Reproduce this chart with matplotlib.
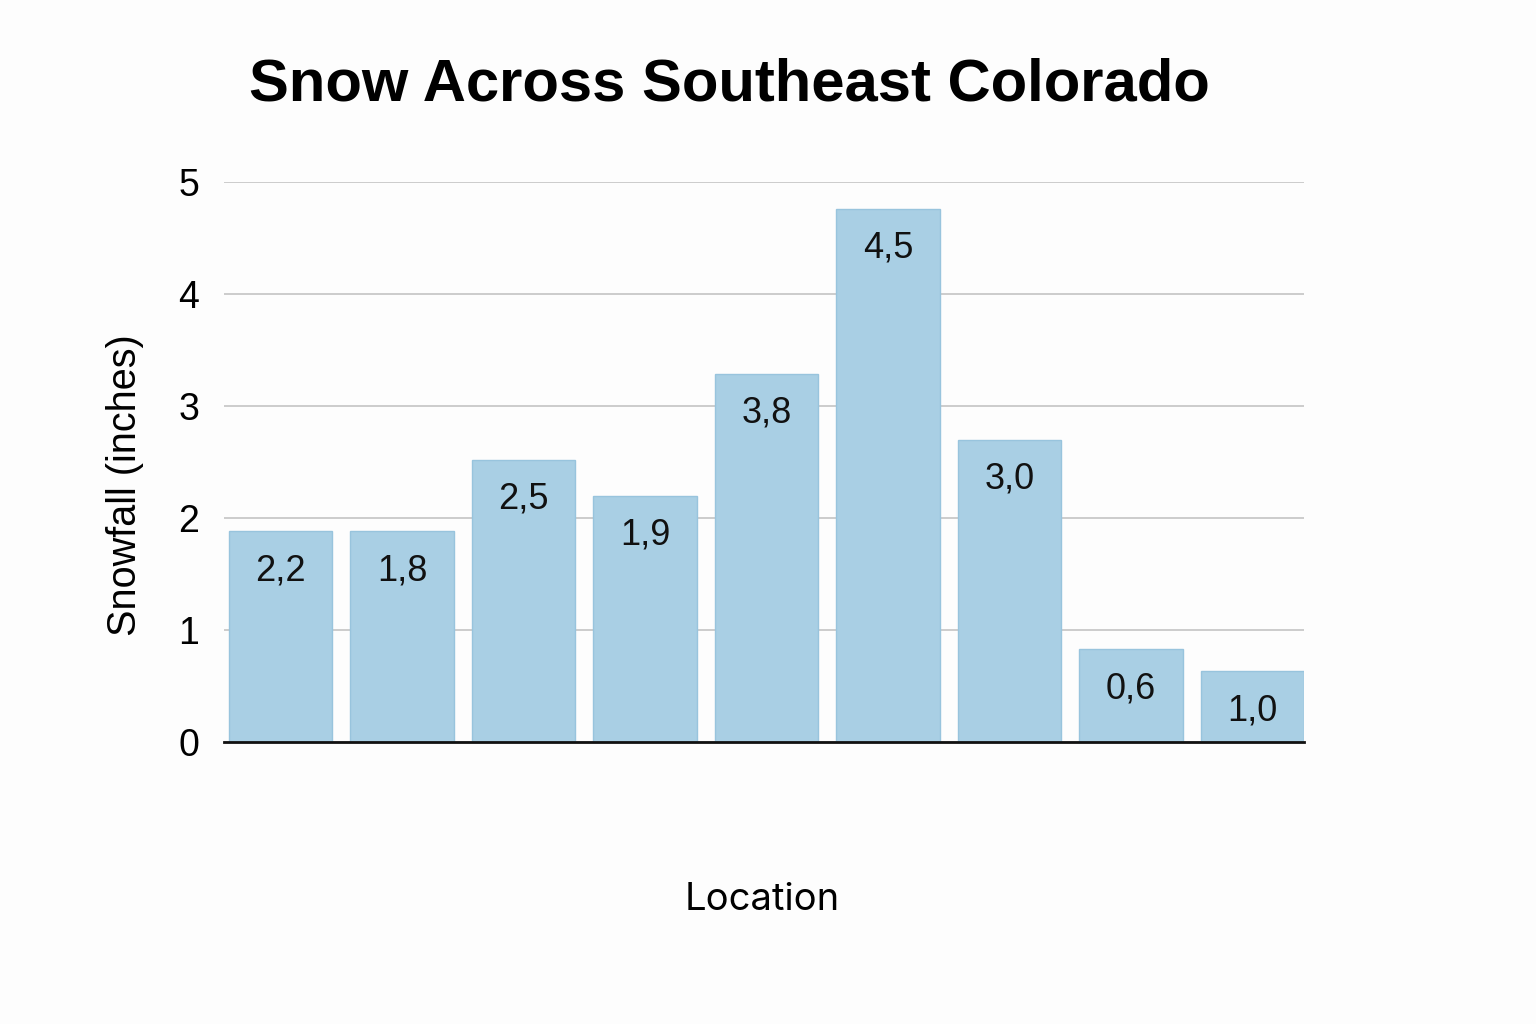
import numpy as np
import matplotlib
matplotlib.use("Agg")
import matplotlib.pyplot as plt

# bar heights as drawn, and the labels printed on them
heights = [1.88, 1.88, 2.52, 2.2, 3.29, 4.76, 2.7, 0.83, 0.63]
labels = ["2,2", "1,8", "2,5", "1,9", "3,8", "4,5", "3,0", "0,6", "1,0"]
yticks = [0, 1, 2, 3, 4, 5]

plt.rcParams['font.family'] = ['Liberation Sans', 'DejaVu Sans']

fig = plt.figure(figsize=(15.36, 10.24), dpi=100, facecolor='#fdfdfd')
ax = fig.add_axes([224/1536, 1-742/1024, 1080/1536, 560/1024])
ax.set_facecolor('#fdfdfd')

x = np.arange(len(heights))
bars = ax.bar(x, heights, width=0.85, color='#a9cfe4', edgecolor='#98c4dd', linewidth=1, zorder=2)

for xi, h, lab in zip(x, heights, labels):
    ax.annotate(lab, (xi, h), xytext=(0, -28.5), textcoords='offset points',
                ha='center', va='center', fontsize=26, color='#111111', zorder=3)

ax.set_xlim(-0.465, 8.425)
ax.set_ylim(0, 5)
ax.set_yticks(yticks)
ax.set_yticklabels([str(t) for t in yticks], fontsize=27)
ax.set_xticks([])
ax.tick_params(axis='y', length=0, pad=18)
ax.grid(axis='y', color='#c4c4c4', linewidth=1.2, zorder=0)
for s in ['top', 'right', 'left']:
    ax.spines[s].set_visible(False)
ax.spines['bottom'].set_color('#111111')
ax.spines['bottom'].set_linewidth(2)
ax.spines['bottom'].set_zorder(4)

fig.text(125/1536, 1-485/1024, "Snowfall (inches)", rotation=90, ha='center', va='center', fontsize=28.5)
fig.text(762/1536, 1-900/1024, "Location", ha='center', va='center', fontsize=27.5, family=['Inter', 'DejaVu Sans'])
fig.text(729/1536, 1-85/1024, "Snow Across Southeast Colorado", ha='center', va='center',
         fontsize=43, fontweight='bold', family=['Liberation Sans Narrow', 'Liberation Sans'])

fig.savefig("out.png", dpi=100, facecolor=fig.get_facecolor())
